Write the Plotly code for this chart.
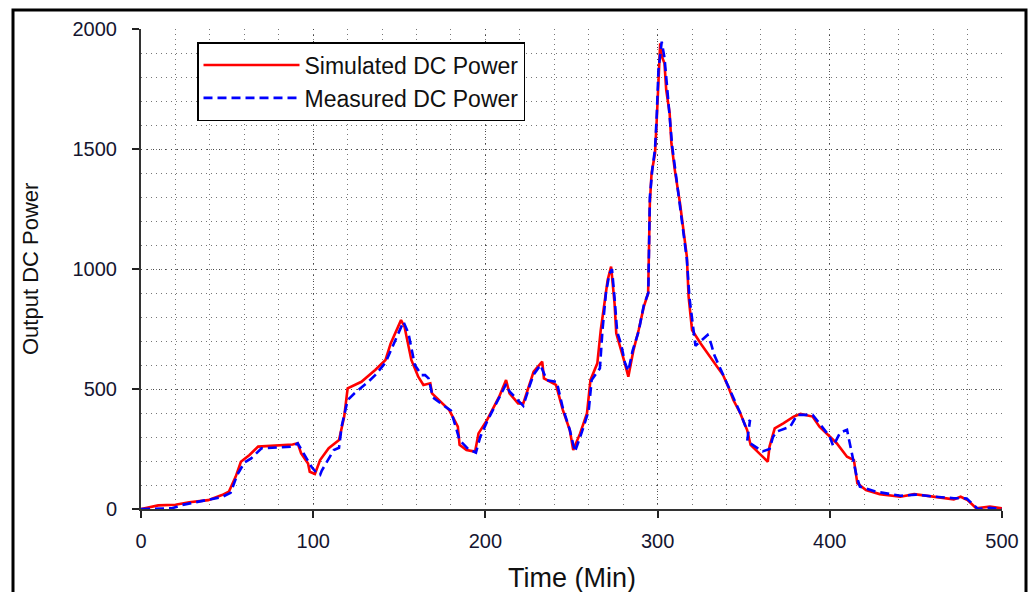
import plotly.graph_objects as go

# Simulated DC Power (red, solid)
sim_t = [0, 5, 10, 20, 28, 39, 47, 51, 55, 58, 63, 68, 80, 88, 91, 93, 97, 98, 101, 104,
         109, 115, 118, 120, 128, 136, 142, 145, 151, 153, 157, 161, 164, 168, 169, 176,
         179, 184, 185, 189, 194, 196, 201, 208, 212, 214, 219, 222, 225, 228, 233, 234,
         241, 245, 249, 251, 255, 259, 261, 265, 267, 270, 271, 273, 274, 275, 276, 279,
         281, 283, 286, 289, 292, 294.5, 295, 295.5, 296.5, 298.5, 299.5, 300.5, 301.5,
         302.5, 304, 305, 307, 308, 310, 313, 315, 317, 318, 320, 325, 332, 338, 341, 344,
         348, 352, 354, 363, 364, 365, 368, 373, 379, 383, 390, 394, 400, 404, 410, 414,
         416, 421, 429, 441, 449, 460, 472, 476, 480, 485, 493, 500]
sim_p = [0, 8, 15, 18, 28, 37, 58, 72, 135, 197, 225, 260, 264, 269, 274, 232, 190, 155, 146, 204,
         253, 287, 385, 503, 530, 579, 621, 690, 787, 760, 621, 551, 517, 524, 482, 433,
         412, 343, 267, 246, 239, 315, 371, 468, 537, 482, 440, 440, 510, 572, 614, 544,
         517, 412, 329, 246, 315, 399, 537, 607, 746, 912, 954, 1010, 940, 857, 732, 662,
         607, 551, 662, 746, 843, 899, 1093, 1274, 1399, 1482, 1621, 1815, 1940,
         1885, 1857, 1746, 1649, 1524, 1412, 1274, 1162, 1051, 885, 746, 690, 621, 558, 510, 454,
         399, 329, 267, 204, 197, 260, 336, 357, 385, 396, 385, 343, 301, 274, 218, 204,
         107, 79, 62, 51, 62, 51, 40, 51, 37, 3, 10, 3]

# Measured DC Power (blue, dashed)
mea_t = [0, 8, 18, 24, 35, 47, 52, 56, 60, 64, 70, 80, 88, 91, 95, 99, 102, 104, 105, 112,
         115, 116.5, 120, 124, 132, 136, 142, 149.5, 152.4, 155.3, 159, 163, 165, 167, 169.5,
         176, 180, 185, 190, 194.5, 197, 201, 208, 212, 214, 219, 222, 226, 228, 232, 235.6,
         241.4, 245, 249, 252, 256, 260, 261.7, 266.5, 268, 270, 272, 273.5, 275, 276.5, 279,
         281, 283, 285.5, 289, 292, 294.6, 295, 295.5, 297, 298.5, 299.5, 300.5, 302.4, 304,
         305.5, 307, 308.5, 310.5, 313, 315, 317, 318.5, 320.5, 322, 329, 331, 333, 338, 341,
         344, 348, 351, 353.7, 352, 361, 365, 367, 369, 377, 381, 390, 394, 400, 402, 406,
         410, 412, 414, 415.6, 417.5, 427, 441, 450, 460, 472, 479.5, 486, 493, 500]
mea_p = [0, 2, 3, 17, 33, 50, 67, 144, 193, 211, 253, 258, 260, 274, 225, 176, 150, 142, 160, 246,
         255, 343, 454, 482, 530, 558, 610, 732, 780, 732, 600, 558, 558, 544, 465,
         430, 410, 287, 250, 235, 300, 365, 460, 520, 490, 450, 430, 520, 560, 600, 537,
         530, 420, 330, 239, 320, 410, 537, 586, 746, 900, 980, 1000, 880, 740, 680,
         610, 575, 660, 740, 850, 900, 1100, 1300, 1420, 1500, 1640, 1830, 1947, 1880,
         1760, 1650, 1510, 1400, 1270, 1160, 1040, 880, 770, 680, 725, 690, 640, 560, 515,
         460, 400, 345, 371, 282, 240, 250, 300, 322, 343, 392, 392, 357, 301, 262, 318,
         330, 260, 204, 135, 93, 72, 55, 60, 52, 45, 44, 0, 5, 0]

x_ticks = [0, 100, 200, 300, 400, 500]
y_ticks = [0, 500, 1000, 1500, 2000]

W, H = 1035, 592
L, R, T, B = 141, 33, 29, 83
pw, ph = W - L - R, H - T - B

FONT = "Liberation Sans, Arial, sans-serif"

fig = go.Figure()
fig.add_trace(go.Scatter(x=sim_t, y=sim_p, mode="lines", name="Simulated DC Power",
                         line=dict(color="#ff0000", width=2.6)))
fig.add_trace(go.Scatter(x=mea_t, y=mea_p, mode="lines", name="Measured DC Power",
                         line=dict(color="#0000ff", width=2.6, dash="9px,5px")))

axfont = dict(family=FONT, size=20, color="#151530")
grid = dict(showgrid=True, gridcolor="#444444", griddash="1px,5px", gridwidth=1)
minor_common = dict(showgrid=True, gridcolor="#777777", griddash="1px,4px", gridwidth=1, ticks="")

fig.update_xaxes(range=[0, 500], tickvals=x_ticks, ticks="outside", ticklen=7, tickwidth=2,
                 tickcolor="#222", showline=True, linecolor="#333", linewidth=2,
                 tickfont=axfont, zeroline=False, ticklabelstandoff=6,
                 minor=dict(dtick=20, **minor_common), **grid)
fig.update_yaxes(range=[0, 2000], tickvals=y_ticks, ticks="outside", ticklen=7, tickwidth=2,
                 tickcolor="#222", showline=True, linecolor="#333", linewidth=2,
                 tickfont=axfont, zeroline=False, ticklabelstandoff=11,
                 minor=dict(dtick=100, **minor_common), **grid)

# outer frame
fig.add_shape(type="rect", xref="paper", yref="paper",
              x0=(13 - L) / pw, x1=(1026 - L) / pw,
              y0=(509 - 640) / ph, y1=(509 - 10) / ph,
              line=dict(color="black", width=3), layer="above")

# axis titles
fig.add_annotation(text="Time (Min)", xref="paper", yref="paper", x=0.5,
                   y=(509 - 578) / ph, showarrow=False, yanchor="middle",
                   font=dict(family=FONT, size=27, color="#111"))
fig.add_annotation(text="Output DC Power", xref="paper", yref="paper",
                   x=(30 - L) / pw, y=(509 - 269) / ph, textangle=-90, showarrow=False,
                   xanchor="center", yanchor="middle",
                   font=dict(family=FONT, size=22, color="#111"))

fig.update_layout(
    width=W, height=H,
    margin=dict(l=L, r=R, t=T, b=B),
    plot_bgcolor="white", paper_bgcolor="white",
    legend=dict(x=(197 - L) / pw, y=(509 - 42) / ph, xanchor="left", yanchor="top",
                bgcolor="white", bordercolor="black", borderwidth=1.5,
                font=dict(family=FONT, size=23, color="#111"),
                itemwidth=96, tracegroupgap=0),
    showlegend=True,
)

fig.write_html("out.html")
